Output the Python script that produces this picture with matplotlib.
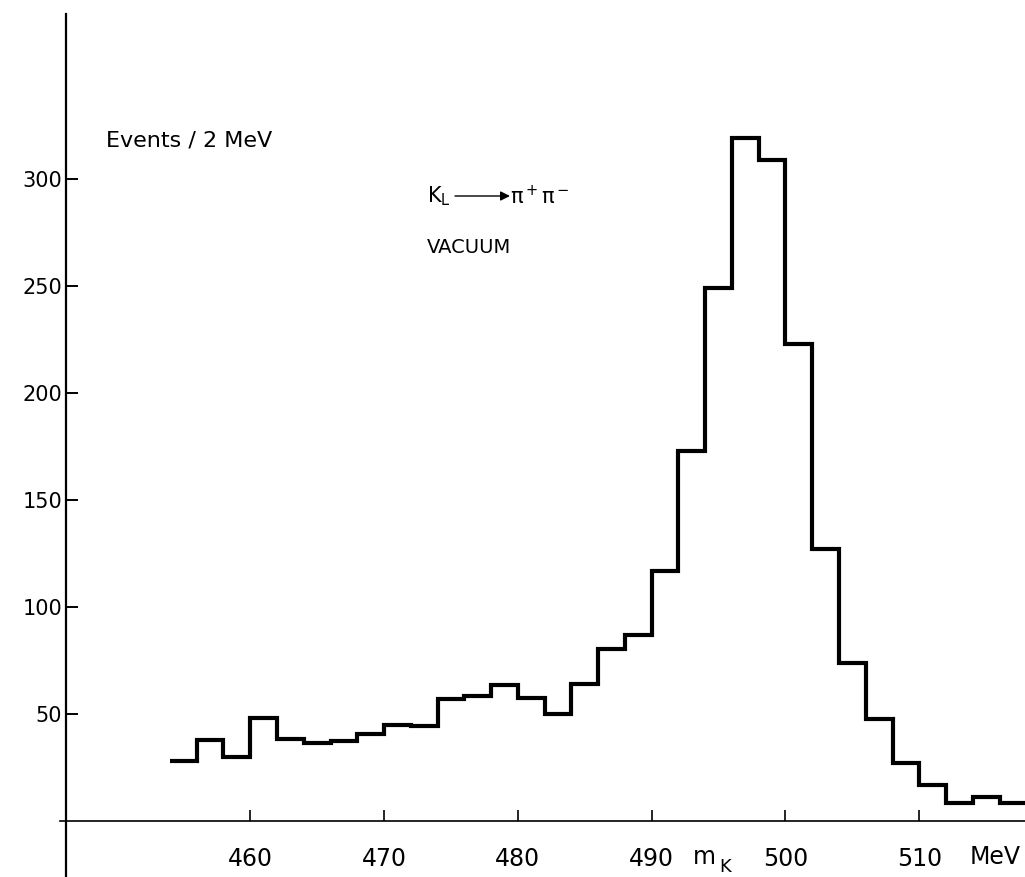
import matplotlib
matplotlib.use("Agg")
import matplotlib.pyplot as plt
import numpy as np

# K_L -> pi+ pi- invariant mass, events per 2 MeV bin
bin_edges = np.arange(454, 520, 2)
counts = [28, 38, 30, 48, 38.5, 36.5, 37.5, 40.5, 45, 44.5,
          57, 58.5, 63.5, 57.5, 50, 64, 80.5, 87, 117, 173,
          249, 319, 309, 223, 127, 74, 47.5, 27, 17, 8.3,
          11, 8.3]
x_ticks = [460, 470, 480, 490, 500, 510]
y_ticks = [50, 100, 150, 200, 250, 300]

plt.rcParams['font.family'] = ['DejaVu Sans']
plt.rcParams['mathtext.default'] = 'regular'

fig = plt.figure(figsize=(10.25, 8.77), dpi=100)
ax = fig.add_axes([0, 0, 1, 1])

ax.stairs(counts, bin_edges, baseline=None, color='black', linewidth=3.0)

ax.set_xlim(441.3, 517.9)
ax.set_ylim(-26.2, 383.6)

# axes drawn as crossing lines like the original plot
for s in ['top', 'right']:
    ax.spines[s].set_visible(False)
ax.spines['left'].set_position(('data', 446.25))
ax.spines['bottom'].set_position(('data', 0))
ax.spines['left'].set_bounds(-26.2, 377)
ax.spines['bottom'].set_bounds(445.8, 517.9)
ax.spines['left'].set_linewidth(1.6)
ax.spines['bottom'].set_linewidth(1.2)

ax.set_xticks(x_ticks)
ax.set_yticks(y_ticks)
ax.tick_params(axis='y', direction='in', length=8.5, width=1.4, pad=3, labelsize=15)
ax.tick_params(axis='x', direction='in', length=8, width=1.2, pad=19, labelsize=17)

def fx(px):
    return px / 1025.0

def fy(py):
    return 1 - py / 877.0

fig.text(fx(106), fy(140), 'Events / 2 MeV', fontsize=16, va='center', ha='left')
fig.text(fx(427), fy(196), 'K$_L$', fontsize=15, va='center', ha='left')
ax.annotate('', xy=(fx(510), fy(196)), xytext=(fx(455), fy(196)),
            xycoords='figure fraction', textcoords='figure fraction',
            arrowprops=dict(arrowstyle='-|>', color='black', lw=1.0,
                            mutation_scale=14, shrinkA=0, shrinkB=0))
fig.text(fx(510), fy(196), '$\\pi^+ \\pi^-$', fontsize=15, va='center', ha='left')
fig.text(fx(427), fy(248), 'VACUUM', fontsize=14, va='center', ha='left')

fig.text(fx(693), fy(857), 'm', fontsize=17, va='center', ha='left')
fig.text(fx(719), fy(867), 'K', fontsize=13, va='center', ha='left')
fig.text(fx(970), fy(857), 'MeV', fontsize=17, va='center', ha='left')

fig.savefig('out.png', dpi=100)
